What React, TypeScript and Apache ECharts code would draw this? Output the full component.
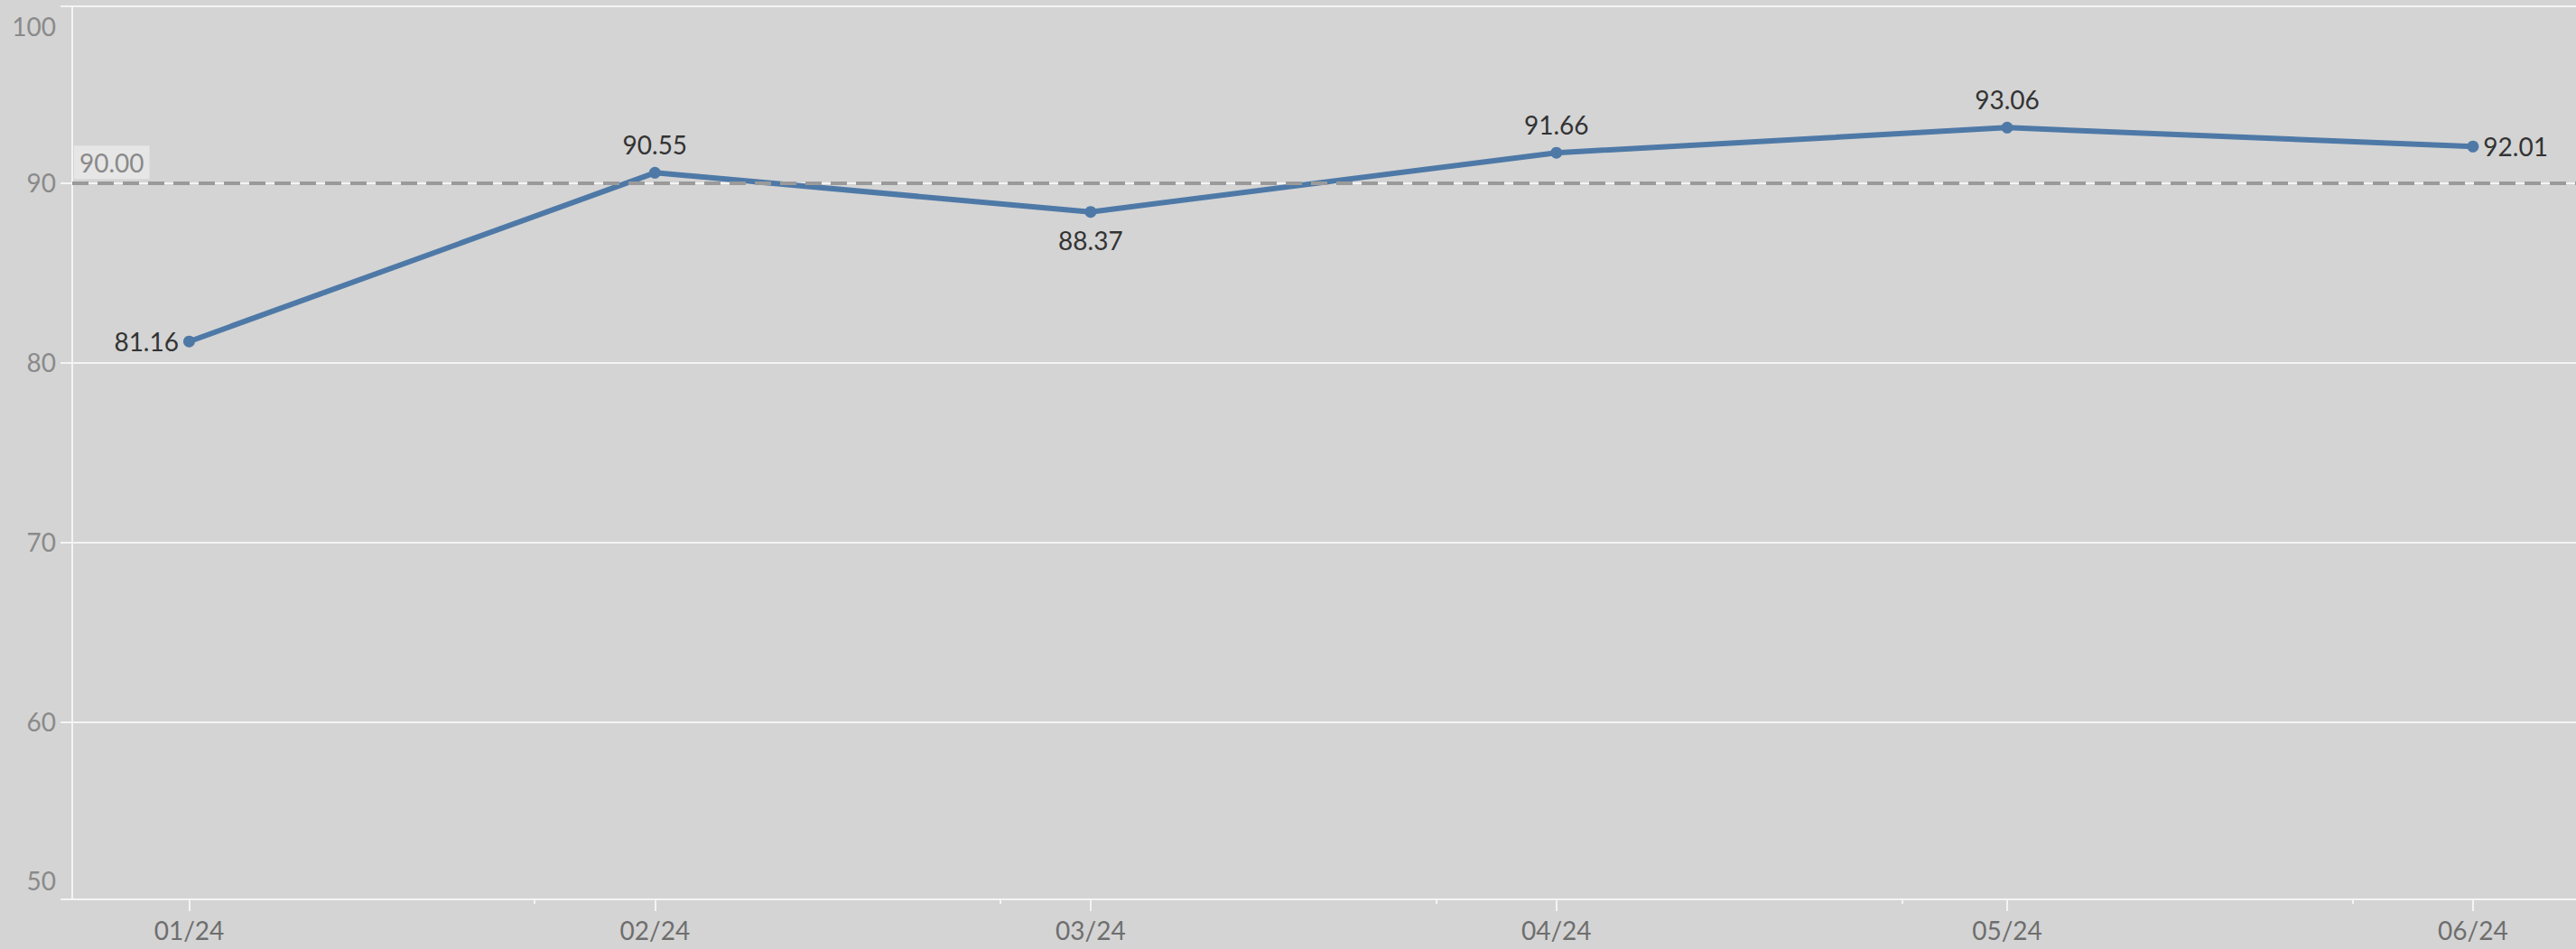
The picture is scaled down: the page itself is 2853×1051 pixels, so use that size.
import React, { useEffect, useRef } from "react";
import * as echarts from "echarts";

// ---- data ----
const monthDates = ["2024-01-01", "2024-02-01", "2024-03-01", "2024-04-01", "2024-05-01", "2024-06-01"];
const scoreValues = [81.16, 90.55, 88.37, 91.66, 93.06, 92.01];
const labelPlacements = ["left", "top", "bottom", "top", "top", "right"];
const minorTickDates = ["2024-01-24", "2024-02-24", "2024-03-24", "2024-04-24", "2024-05-24"];
const yTickValues = [50, 60, 70, 80, 90, 100];
const targetValue = 90;
const targetLabel = "90.00";

// ---- layout constants ----
const DAY = 86400000;
const X_MIN = Date.UTC(2024, 0, 1) - 7.78 * DAY;
const X_MAX = Date.UTC(2024, 0, 1) + 158.86 * DAY;
const Y_MIN = 50.12;
const Y_MAX = 99.81;

const FONT = "Lato, 'Open Sans', sans-serif";
const BG = "#d4d4d4";
const GRID = "#f4f4f4";
const BLUE = "#4e79a7";

function fmtMonth(v: number) {
  const d = new Date(v);
  const mm = String(d.getUTCMonth() + 1).padStart(2, "0");
  const yy = String(d.getUTCFullYear() % 100).padStart(2, "0");
  return `${mm}/${yy}`;
}

export default function App() {
  const ref = useRef<HTMLDivElement>(null);
  useEffect(() => {
    if (!ref.current) return;
    const chart = echarts.init(ref.current, undefined, { renderer: "svg" });
    const monthTs = monthDates.map((d) => Date.parse(d));
    const minorTs = minorTickDates.map((d) => Date.parse(d));
    const yLabelPos = yTickValues.map((v) => Math.min(Math.max(v, Y_MIN + 1.06), Y_MAX - 1.09));
    const yGridVals = yTickValues.filter((v) => v > Y_MIN && v < Y_MAX).concat([Y_MIN, Y_MAX]);

    const option: any = {
      animation: false,
      backgroundColor: BG,
      textStyle: { fontFamily: FONT },
      grid: {
        left: 80,
        right: 0,
        top: 7,
        bottom: 55,
        containLabel: false,
        outerBoundsMode: "none",
      },
      xAxis: [
        {
          type: "value",
          min: X_MIN,
          max: X_MAX,
          position: "bottom",
          axisLine: { show: true, lineStyle: { color: GRID, width: 2 } },
          axisTick: { show: true, customValues: monthTs, length: 13, lineStyle: { color: GRID, width: 2 } },
          axisLabel: {
            show: true,
            customValues: monthTs,
            formatter: (v: number) => fmtMonth(v),
            color: "#6e6e6e",
            fontSize: 28,
            fontFamily: FONT,
            margin: 20,
          },
          splitLine: { show: false },
        },
        {
          type: "value",
          min: X_MIN,
          max: X_MAX,
          position: "bottom",
          offset: 0,
          axisLine: { show: false },
          axisTick: { show: true, customValues: minorTs, length: 5, lineStyle: { color: GRID, width: 2 } },
          axisLabel: { show: false },
          splitLine: { show: false },
        },
      ],
      yAxis: {
        type: "value",
        min: Y_MIN,
        max: Y_MAX,
        axisLine: { show: true, lineStyle: { color: GRID, width: 2 } },
        axisTick: { show: true, customValues: yGridVals, length: 13, lineStyle: { color: GRID, width: 2 } },
        axisLabel: {
          show: true,
          customValues: yLabelPos,
          formatter: (v: number) => {
            let best = yTickValues[0];
            for (const t of yTickValues) if (Math.abs(t - v) < Math.abs(best - v)) best = t;
            return String(best);
          },
          color: "#8a8a8a",
          fontSize: 28,
          fontFamily: FONT,
          margin: 18,
        },
        splitLine: { show: true, lineStyle: { color: GRID, width: 2 } },
      },
      series: [
        {
          type: "line",
          data: [],
          z: 1,
          silent: true,
          markLine: {
            silent: true,
            symbol: ["none", "none"],
            data: [{ yAxis: targetValue }],
            lineStyle: { type: [18, 10], color: "#9a9a9a", width: 4 },
            label: {
              show: true,
              position: "insideStartTop",
              formatter: targetLabel,
              color: "#8a8a8a",
              fontSize: 28,
              fontFamily: FONT,
              backgroundColor: "#e6e6e6",
              padding: [5, 6, 4, 6],
              distance: [2, 4],
            },
            emphasis: { disabled: true },
          },
        },
        {
          type: "line",
          z: 3,
          data: monthTs.map((t, i) => {
            const pos = labelPlacements[i];
            return {
              value: [t, scoreValues[i]],
              label: { position: pos, distance: pos === "left" || pos === "right" ? 5 : 11 },
            };
          }),
          symbol: "circle",
          symbolSize: 13,
          itemStyle: { color: BLUE },
          lineStyle: { color: BLUE, width: 6 },
          label: {
            show: true,
            formatter: (p: any) => p.value[1].toFixed(2),
            color: "#333333",
            fontSize: 28,
            fontFamily: FONT,
          },
          emphasis: { disabled: true },
        },
      ],
    };
    chart.setOption(option);
    return () => chart.dispose();
  }, []);
  return (
    <div
      ref={ref}
      style={{ position: "fixed", left: 0, top: 0, width: 2853, height: 1051 }}
    />
  );
}
